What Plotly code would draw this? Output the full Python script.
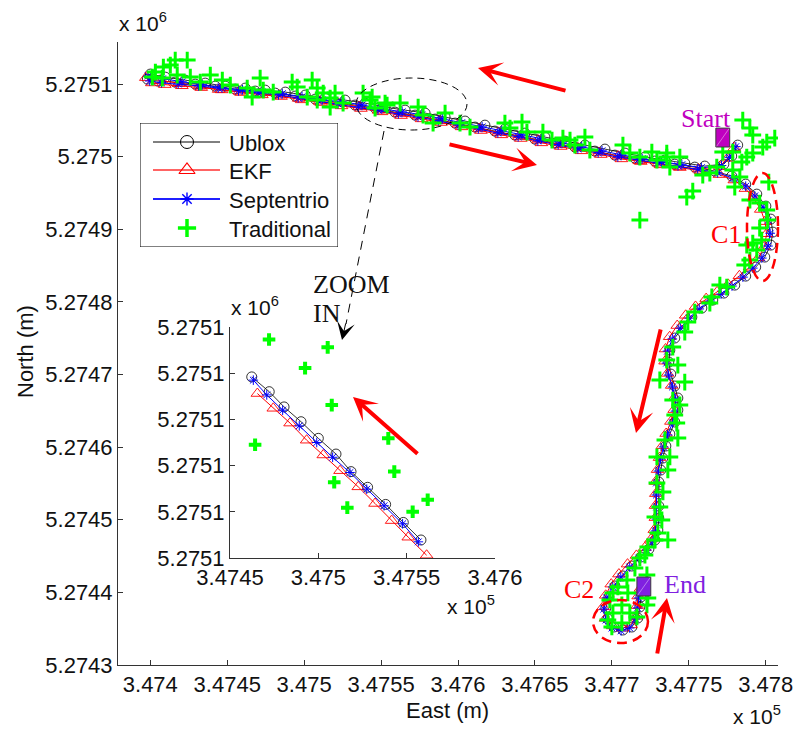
import plotly.graph_objects as go

# ------------------------------------------------------------------
# Vehicle track, UTM east / north in metres
# ------------------------------------------------------------------
ublox_east = [
    347781.8, 347777.9, 347772.8,
    347760.4, 347747.4, 347734.4, 347721.5, 347708.5, 347695.5, 347682.5, 347669.5, 347656.5, 347643.5,
    347630.5, 347617.5, 347604.6, 347591.6, 347578.6, 347565.6, 347552.6, 347539.6, 347526.6, 347513.6,
    347500.7, 347487.7, 347474.7, 347461.7, 347448.7, 347435.7, 347422.7, 347409.7, 347400.0,
    347398.1, 347405.2, 347416.2, 347429.2, 347442.2, 347455.2, 347468.2, 347481.2, 347494.2, 347507.2,
    347520.1, 347533.1, 347546.1, 347559.1, 347572.1, 347585.1, 347598.1, 347611.1, 347624.0, 347637.0,
    347650.0, 347663.0, 347676.0, 347689.0, 347702.0, 347715.0, 347727.9, 347740.9, 347753.9, 347766.9,
    347777.9, 347787.0,
    347794.2, 347800.1, 347803.3, 347804.6, 347803.3, 347799.4, 347793.5, 347787.0, 347779.9, 347772.8,
    347765.6, 347758.5, 347752.0, 347746.2, 347740.9, 347737.7, 347737.0, 347738.3, 347740.9, 347742.9,
    347742.9, 347740.9, 347737.7, 347735.1, 347733.1, 347731.8, 347730.5, 347730.5, 347730.5, 347730.5,
    347729.9, 347728.0, 347724.1, 347718.9, 347713.0, 347707.2, 347702.0, 347698.1, 347696.1, 347697.4,
    347701.3, 347707.2, 347713.0, 347716.9, 347718.2, 347718.9, 347720.2,
]
ublox_north = [
    5275016.0, 5275000.9, 5274989.8,
    5274987.1, 5274991.2, 5274995.4, 5274999.5, 5275005.0, 5275010.5, 5275016.0, 5275021.5, 5275027.0, 5275032.5,
    5275038.0, 5275043.5, 5275049.1, 5275054.6, 5275060.1, 5275064.2, 5275068.3, 5275073.8, 5275078.0, 5275080.7,
    5275084.9, 5275089.0, 5275091.7, 5275094.5, 5275097.2, 5275101.4, 5275105.5, 5275109.6, 5275113.8,
    5275106.9, 5275104.1, 5275102.8, 5275100.0, 5275097.2, 5275093.1, 5275090.4, 5275087.6, 5275083.5, 5275079.3,
    5275075.2, 5275071.1, 5275067.0, 5275061.4, 5275057.3, 5275051.8, 5275046.3, 5275040.8, 5275035.3, 5275029.8,
    5275024.3, 5275018.8, 5275013.3, 5275007.7, 5275002.2, 5274998.1, 5274994.0, 5274989.8, 5274985.7, 5274980.2,
    5274973.3, 5274962.3,
    5274948.5, 5274932.0, 5274914.1, 5274896.2, 5274878.3, 5274861.8, 5274848.0, 5274835.6, 5274823.2, 5274812.2,
    5274802.6, 5274791.6, 5274779.2, 5274765.4, 5274750.3, 5274733.7, 5274717.2, 5274700.7, 5274684.2, 5274667.7,
    5274651.1, 5274634.6, 5274618.1, 5274601.6, 5274585.0, 5274568.5, 5274552.0, 5274535.5, 5274518.9, 5274502.4,
    5274485.9, 5274472.1, 5274459.7, 5274448.7, 5274436.3, 5274422.6, 5274408.8, 5274393.7, 5274378.5, 5274363.4,
    5274352.3, 5274348.2, 5274352.3, 5274364.7, 5274379.9, 5274393.7, 5274404.7,
]

ekf_east = [
    347779.5, 347775.2, 347770.1,
    347756.3, 347743.6, 347730.2, 347717.8, 347704.1, 347691.7, 347678.2, 347665.8, 347652.1, 347639.6,
    347626.3, 347613.8, 347600.3, 347587.9, 347574.4, 347561.8, 347548.3, 347535.8, 347522.4, 347509.9,
    347496.5, 347483.8, 347470.5, 347457.9, 347444.4, 347431.9, 347418.4, 347406.0, 347397.1,
    347401.0, 347409.4, 347420.5, 347433.1, 347446.4, 347459.0, 347472.5, 347485.0, 347498.4, 347511.1,
    347524.3, 347536.9, 347550.3, 347563.0, 347576.3, 347588.9, 347602.3, 347614.9, 347628.2, 347640.8,
    347654.2, 347666.8, 347680.2, 347692.8, 347706.2, 347718.8, 347731.6, 347744.2, 347757.6, 347769.9,
    347779.6, 347786.8,
    347792.0, 347796.8, 347799.5, 347800.6, 347799.2, 347795.3, 347789.4, 347782.9, 347775.6, 347768.4,
    347761.3, 347754.4, 347748.0, 347742.5, 347737.6, 347734.9, 347734.6, 347736.2, 347738.9, 347740.7,
    347740.5, 347738.4, 347735.3, 347732.9, 347731.0, 347729.7, 347728.5, 347728.6, 347728.4, 347728.3,
    347727.6, 347725.5, 347721.4, 347716.0, 347710.2, 347704.6, 347699.6, 347696.0, 347694.3, 347695.9,
    347700.4, 347706.9, 347712.4, 347715.6, 347716.5, 347717.1, 347718.6,
]
ekf_north = [
    5275012.3, 5274998.0, 5274986.4,
    5274982.9, 5274986.5, 5274991.1, 5274994.6, 5275000.8, 5275005.9, 5275011.8, 5275016.7, 5275022.9, 5275027.8,
    5275033.6, 5275038.9, 5275044.8, 5275049.7, 5275055.9, 5275059.6, 5275063.9, 5275069.0, 5275073.4, 5275076.4,
    5275080.2, 5275084.7, 5275087.0, 5275090.1, 5275092.6, 5275097.1, 5275100.8, 5275105.2, 5275108.9,
    5275101.6, 5275099.3, 5275097.7, 5275095.2, 5275092.0, 5275088.4, 5275085.2, 5275082.9, 5275078.3, 5275074.6,
    5275070.0, 5275066.4, 5275061.8, 5275056.7, 5275052.1, 5275047.1, 5275041.1, 5275036.1, 5275030.1, 5275025.1,
    5275019.1, 5275014.1, 5275008.1, 5275003.0, 5274997.0, 5274993.4, 5274988.8, 5274985.1, 5274980.5, 5274975.4,
    5274967.9, 5274956.1,
    5274943.1, 5274927.4, 5274910.6, 5274893.9, 5274876.5, 5274860.9, 5274847.7, 5274836.0, 5274824.2, 5274813.9,
    5274804.6, 5274793.8, 5274781.6, 5274767.5, 5274752.1, 5274735.2, 5274718.4, 5274701.6, 5274685.0, 5274668.3,
    5274651.7, 5274635.4, 5274618.8, 5274602.0, 5274585.6, 5274569.1, 5274552.6, 5274536.0, 5274519.6, 5274503.0,
    5274486.4, 5274473.3, 5274461.6, 5274450.9, 5274438.9, 5274425.2, 5274411.4, 5274396.0, 5274380.1, 5274364.2,
    5274353.8, 5274350.6, 5274355.2, 5274367.1, 5274381.8, 5274395.0, 5274405.5,
]

septentrio_east = [
    347780.6, 347776.4, 347771.3,
    347758.2, 347745.5, 347732.3, 347719.7, 347706.3, 347693.6, 347680.4, 347667.7, 347654.3, 347641.6,
    347628.4, 347615.7, 347602.4, 347589.8, 347576.5, 347563.7, 347550.5, 347537.7, 347524.5, 347511.8,
    347498.6, 347485.8, 347472.6, 347459.9, 347446.6, 347433.8, 347420.6, 347408.0, 347398.6,
    347399.6, 347407.3, 347418.1, 347431.3, 347444.1, 347457.3, 347470.1, 347483.3, 347496.1, 347509.3,
    347522.0, 347535.2, 347548.0, 347561.2, 347574.0, 347587.2, 347600.0, 347613.2, 347625.9, 347639.1,
    347651.9, 347665.1, 347677.9, 347691.1, 347703.9, 347717.1, 347729.8, 347743.0, 347755.8, 347768.8,
    347778.9, 347787.0,
    347792.9, 347798.4, 347801.6, 347802.9, 347801.5, 347797.5, 347791.6, 347785.2, 347778.1, 347771.0,
    347763.9, 347756.8, 347750.3, 347744.5, 347739.3, 347736.2, 347735.6, 347736.9, 347739.4, 347741.5,
    347741.4, 347739.4, 347736.2, 347733.6, 347731.6, 347730.3, 347729.0, 347729.0, 347729.1, 347729.0,
    347728.4, 347726.6, 347722.7, 347717.5, 347711.6, 347705.8, 347700.6, 347696.7, 347694.8, 347696.2,
    347700.1, 347706.0, 347711.6, 347715.4, 347716.7, 347717.4, 347718.8,
]
septentrio_north = [
    5275013.9, 5274999.2, 5274987.9,
    5274984.9, 5274989.0, 5274993.0, 5274997.3, 5275002.6, 5275008.2, 5275013.7, 5275019.1, 5275024.7, 5275030.2,
    5275035.8, 5275041.1, 5275046.9, 5275052.2, 5275057.9, 5275061.8, 5275066.1, 5275071.4, 5275075.7, 5275078.4,
    5275082.5, 5275086.8, 5275089.3, 5275092.2, 5275094.8, 5275099.2, 5275103.1, 5275107.4, 5275111.2,
    5275104.3, 5275101.7, 5275100.2, 5275097.6, 5275094.6, 5275090.7, 5275087.8, 5275085.2, 5275080.9, 5275076.9,
    5275072.6, 5275068.7, 5275064.4, 5275059.0, 5275054.7, 5275049.4, 5275043.7, 5275038.4, 5275032.7, 5275027.4,
    5275021.7, 5275016.4, 5275010.7, 5275005.3, 5274999.6, 5274995.7, 5274991.4, 5274987.4, 5274983.1, 5274977.8,
    5274970.6, 5274959.4,
    5274946.0, 5274930.2, 5274912.4, 5274894.6, 5274877.0, 5274860.4, 5274846.6, 5274834.2, 5274821.9, 5274810.9,
    5274801.3, 5274790.4, 5274777.8, 5274764.0, 5274749.1, 5274732.3, 5274715.8, 5274699.3, 5274682.9, 5274666.4,
    5274649.7, 5274633.3, 5274616.8, 5274600.3, 5274583.6, 5274567.1, 5274550.7, 5274534.1, 5274517.6, 5274501.0,
    5274484.6, 5274470.8, 5274458.3, 5274447.3, 5274435.0, 5274421.2, 5274407.4, 5274392.4, 5274377.1, 5274362.0,
    5274350.9, 5274347.0, 5274351.0, 5274363.4, 5274378.6, 5274392.3, 5274403.3,
]

traditional_east = [
    347424.0, 347416.2, 347413.0, 347408.5, 347403.3, 347401.3, 347407.8, 347417.5, 347426.0, 347432.5,
    347439.0, 347446.8, 347452.0, 347463.0, 347466.2, 347471.4, 347473.4, 347479.9, 347492.2, 347495.5,
    347505.2, 347508.5, 347512.4, 347516.9, 347520.1, 347525.3, 347516.9, 347508.5, 347502.0, 347538.3,
    347542.9, 347546.1, 347553.9,
    347544.2, 347552.6, 347562.4, 347574.1, 347577.3, 347591.6, 347583.8, 347601.3, 347607.8, 347630.5,
    347633.8, 347641.6, 347644.8, 347655.2, 347661.1, 347668.2, 347672.8, 347676.0, 347682.5, 347685.7,
    347707.2, 347711.7, 347718.2, 347726.0, 347729.3, 347735.7, 347744.2, 347735.7, 347737.7,
    347785.1, 347789.7, 347791.6, 347800.7, 347805.9, 347798.1, 347791.6, 347787.7, 347778.6, 347772.1,
    347784.5, 347778.6, 347768.2, 347763.7, 347752.6, 347748.7, 347718.2, 347802.0, 347783.2, 347779.9,
    347759.1,
    347800.7, 347801.3, 347796.1, 347797.4, 347791.6, 347787.7, 347794.2, 347789.7, 347786.4, 347789.7,
    347796.1, 347770.2,
    347774.7, 347765.0, 347763.7, 347753.9, 347749.4, 347747.4, 347739.6, 347735.7, 347742.9, 347731.2,
    347747.4, 347739.6, 347744.2, 347740.9, 347742.2, 347742.9, 347734.5, 347729.3, 347737.7, 347736.4,
    347729.3, 347733.2, 347731.2, 347728.0, 347732.5, 347729.9, 347736.4, 347728.0,
    347723.4, 347721.5, 347718.2, 347715.0, 347722.8, 347709.8, 347703.9, 347700.7, 347710.4, 347698.7,
    347706.5, 347722.8, 347700.7, 347711.7, 347697.4, 347706.5, 347700.0, 347716.3, 347723.4,
]
traditional_north = [
    5275133.1, 5275133.1, 5275126.2, 5275123.4, 5275116.6, 5275109.7, 5275108.3, 5275112.4, 5275109.7, 5275102.8,
    5275112.4, 5275105.5, 5275098.7, 5275094.5, 5275082.1, 5275108.3, 5275091.8, 5275089.0, 5275102.8, 5275095.9,
    5275105.5, 5275094.5, 5275087.6, 5275080.8, 5275087.6, 5275073.9, 5275068.4, 5275078.0, 5275082.1, 5275087.6,
    5275078.0, 5275067.0, 5275071.1,
    5275082.1, 5275073.9, 5275073.9, 5275068.4, 5275057.4, 5275060.1, 5275046.3, 5275046.3, 5275040.8, 5275046.3,
    5275039.5, 5275047.7, 5275033.9, 5275033.9, 5275022.9, 5275025.7, 5275022.9, 5275016.0, 5275027.1, 5275009.2,
    5275016.0, 5275005.0, 5274999.5, 5275006.4, 5274995.4, 5274999.5, 5274999.5, 5275005.0, 5274985.8,
    5275050.5, 5275039.5, 5275029.8, 5275020.2, 5275025.7, 5275013.3, 5275005.0, 5274999.5, 5275006.4, 5275006.4,
    5274992.6, 5274981.6, 5274985.8, 5274977.5, 5274952.7, 5274944.4, 5274912.8, 5274965.1, 5274972.0, 5274958.2,
    5274974.7,
    5274926.6, 5274912.8, 5274901.8, 5274885.2, 5274881.1, 5274878.4, 5274871.5, 5274857.7, 5274850.8, 5274940.3,
    5274936.2, 5274823.3,
    5274820.5, 5274806.8, 5274798.5, 5274786.1, 5274772.3, 5274758.6, 5274737.9, 5274720.0, 5274713.1, 5274692.5,
    5274689.7, 5274664.9, 5274658.1, 5274644.3, 5274633.3, 5274612.6, 5274609.9, 5274586.5, 5274586.5, 5274568.6,
    5274550.7, 5274538.3, 5274517.6, 5274503.8, 5274499.7, 5274481.8, 5274472.2, 5274472.2,
    5274462.5, 5274451.5, 5274447.4, 5274433.6, 5274424.0, 5274417.1, 5274407.5, 5274399.2, 5274399.2, 5274389.6,
    5274382.7, 5274382.7, 5274371.7, 5274371.7, 5274362.0, 5274357.9, 5274352.4, 5274366.2, 5274392.3,
]

# Short stretch of the westbound leg shown enlarged
zoom_ublox_east = [347462.3, 347472.2, 347480.6, 347490.2, 347500.0, 347510.0, 347518.5, 347527.9, 347538.1, 347548.1, 347558.1]
zoom_ublox_north = [5275089.2, 5275086.0, 5275082.7, 5275079.5, 5275075.9, 5275072.5, 5275068.7, 5275065.3, 5275061.6, 5275057.7, 5275053.9]
zoom_ekf_east = [347465.5, 347474.5, 347484.0, 347493.4, 347502.8, 347512.3, 347522.6, 347532.1, 347541.5, 347550.9, 347561.3]
zoom_ekf_north = [5275085.6, 5275082.4, 5275079.2, 5275075.5, 5275072.3, 5275068.9, 5275065.4, 5275061.8, 5275058.1, 5275054.5, 5275050.6]
zoom_sept_east = [347463.2, 347470.8, 347479.8, 347489.2, 347499.1, 347508.1, 347517.9, 347527.4, 347537.2, 347547.7, 347556.6]
zoom_sept_north = [5275088.5, 5275085.3, 5275082.0, 5275078.6, 5275075.0, 5275071.8, 5275068.5, 5275064.9, 5275061.3, 5275057.4, 5275053.5]
zoom_trad_east = [347472.1, 347464.2, 347492.5, 347505.3, 347507.6, 347509.0, 347516.4, 347539.6, 347543.0, 347553.4, 347561.9]
zoom_trad_north = [5275097.3, 5275074.5, 5275091.1, 5275095.6, 5275083.1, 5275066.4, 5275060.9, 5275075.9, 5275068.7, 5275060.0, 5275062.6]

# Route end points
start_point = (347772.1, 5275026.4)
end_point = (347720.8, 5274408.1)

# Tick positions and labels
main_x_ticks = [347400, 347450, 347500, 347550, 347600, 347650, 347700, 347750, 347800]
main_x_labels = ["3.474", "3.4745", "3.475", "3.4755", "3.476", "3.4765", "3.477", "3.4775", "3.478"]
main_y_ticks = [5274300, 5274400, 5274500, 5274600, 5274700, 5274800, 5274900, 5275000, 5275100]
main_y_labels = ["5.2743", "5.2744", "5.2745", "5.2746", "5.2747", "5.2748", "5.2749", "5.275", "5.2751"]
zoom_x_ticks = [347450, 347500, 347550, 347600]
zoom_x_labels = ["3.4745", "3.475", "3.4755", "3.476"]
zoom_y_ticks = [5275050, 5275060, 5275070, 5275080, 5275090, 5275100]
zoom_y_labels = ["5.2751"] * 6

legend_labels = ["Ublox", "EKF", "Septentrio", "Traditional"]

# ------------------------------------------------------------------
# Page geometry helpers (page pixels -> paper fractions)
# ------------------------------------------------------------------
W, H = 796, 734
ML, MR, MT, MB = 118, 18, 42, 69
PW, PH = W - ML - MR, H - MT - MB


def fx(x):
    return (x - ML) / PW


def fy(y):
    return (H - MB - y) / PH


SANS = "Liberation Sans, Arial, Helvetica, sans-serif"
SERIF = "Liberation Serif, Times New Roman, serif"
AXIS = "#333333"
TEXT = "#111111"
GREEN = "#00FF00"
FS = 22

# Per-series styling, in drawing order
styles = [
    dict(mode="lines+markers", line=dict(color="black", width=0.8),
         marker=dict(symbol="circle-open", size=10, color="black", line=dict(width=0.8))),
    dict(mode="lines+markers", line=dict(color="#FF0000", width=1),
         marker=dict(symbol="triangle-up-open", size=11, color="#FF0000", line=dict(width=0.9))),
    dict(mode="lines+markers", line=dict(color="#0000FF", width=1),
         marker=dict(symbol="asterisk-open", size=8, color="#0000FF", line=dict(width=1, color="#0000FF"))),
    dict(mode="markers",
         marker=dict(symbol="cross-thin-open", size=12, color=GREEN, line=dict(width=3, color=GREEN))),
]

fig = go.Figure()

main_xs = [ublox_east, ekf_east, septentrio_east, traditional_east]
main_ys = [ublox_north, ekf_north, septentrio_north, traditional_north]
for name, xs, ys, st in zip(legend_labels, main_xs, main_ys, styles):
    fig.add_trace(go.Scatter(x=xs, y=ys, name=name, xaxis="x", yaxis="y", showlegend=False, **st))

zoom_xs = [zoom_ublox_east, zoom_ekf_east, zoom_sept_east, zoom_trad_east]
zoom_ys = [zoom_ublox_north, zoom_ekf_north, zoom_sept_north, zoom_trad_north]
for name, xs, ys, st in zip(legend_labels, zoom_xs, zoom_ys, styles):
    st = dict(st)
    if name == "Traditional":
        st["marker"] = dict(symbol="cross-thin-open", size=9, color=GREEN, line=dict(width=4, color=GREEN))
    fig.add_trace(go.Scatter(x=xs, y=ys, name=name, xaxis="x2", yaxis="y2", showlegend=False, **st))

# Legend key, drawn in its own small pixel-scaled panel (x3 / y3)
legend_rows = [142, 170, 199, 228]
legend_marks = [
    dict(symbol="circle-open", size=13, color="black", line=dict(width=1)),
    dict(symbol="triangle-up-open", size=14, color="#FF0000", line=dict(width=1.2)),
    dict(symbol="asterisk-open", size=11, color="#0000FF", line=dict(width=1.4, color="#0000FF")),
    dict(symbol="cross-thin-open", size=13, color=GREEN, line=dict(width=3.5, color=GREEN)),
]
legend_lines = [("black", 1), ("#FF3030", 1.6), ("#2020FF", 2), None]
for row, mk, ln in zip(legend_rows, legend_marks, legend_lines):
    if ln is not None:
        fig.add_trace(go.Scatter(x=[153, 220], y=[row, row], mode="lines", xaxis="x3", yaxis="y3",
                                 showlegend=False, hoverinfo="skip", line=dict(color=ln[0], width=ln[1])))
    fig.add_trace(go.Scatter(x=[187], y=[row], mode="markers", xaxis="x3", yaxis="y3",
                             showlegend=False, hoverinfo="skip", marker=mk))

axis_common = dict(showline=True, linecolor=AXIS, linewidth=1, ticks="inside", ticklen=5,
                   tickcolor=AXIS, tickwidth=1, showgrid=False, zeroline=False, mirror=False,
                   automargin=False, tickfont=dict(family=SANS, size=FS, color=TEXT))

shapes = []
# Legend frame
shapes.append(dict(type="rect", xref="x3", yref="y3", x0=140, x1=338, y0=123, y1=247, layer="below",
                   fillcolor="white", line=dict(color="black", width=1)))
# Start / End markers
for (e, n), fill in ((start_point, "#BF00BF"), (end_point, "#8020E0")):
    shapes.append(dict(type="rect", xref="x", yref="y", x0=e - 4.5, x1=e + 4.5, y0=n - 13, y1=n + 13,
                       fillcolor=fill, line=dict(color="#3a3a3a", width=1)))
    shapes.append(dict(type="line", xref="x", yref="y", x0=e - 4.0, x1=e + 4.0, y0=n - 12, y1=n + 12,
                       line=dict(color="rgba(255,255,255,0.6)", width=0.7)))

# Highlight ellipses
shapes.append(dict(type="circle", xref="paper", yref="paper", x0=fx(356), x1=fx(467), y0=fy(130), y1=fy(78),
                   line=dict(color="black", width=1, dash="7px,5px")))
shapes.append(dict(type="circle", xref="paper", yref="paper", x0=fx(747), x1=fx(778), y0=fy(281), y1=fy(173),
                   line=dict(color="#FF0000", width=2.5, dash="10px,6px")))
shapes.append(dict(type="circle", xref="paper", yref="paper", x0=fx(593), x1=fx(648), y0=fy(643), y1=fy(600),
                   line=dict(color="#FF0000", width=2.5, dash="10px,6px")))
# Leader from the ellipse to the enlarged view
shapes.append(dict(type="line", xref="paper", yref="paper", x0=fx(384), y0=fy(131), x1=fx(346), y1=fy(324),
                   line=dict(color="black", width=1, dash="9px,7px")))

annotations = []


def arrow(head, tail, color="#FF0000", width=4, size=1.0):
    annotations.append(dict(x=fx(head[0]), y=fy(head[1]), xref="paper", yref="paper", text="",
                            showarrow=True, arrowhead=3, arrowsize=size, arrowwidth=width,
                            arrowcolor=color, ax=tail[0] - head[0], ay=tail[1] - head[1], standoff=0))


arrow((478, 68), (567, 91))
arrow((537, 165), (448, 144))
arrow((636, 433), (661, 328))
arrow((667, 598), (657, 655))
arrow((353, 397), (419, 455))
arrow((342, 340), (346, 322), color="black", width=1, size=3)


def label(text, x, y, color, size=26, family=SERIF, xanchor="left", yanchor="middle", angle=0,
          xref="paper", yref="paper"):
    if xref == "paper":
        x, y = fx(x), fy(y)
    annotations.append(dict(text=text, x=x, y=y, xref=xref, yref=yref, showarrow=False,
                            xanchor=xanchor, yanchor=yanchor, textangle=angle,
                            font=dict(family=family, size=size, color=color)))


label("Start", 679, 119, "#C000C0")
label("End", 662, 584, "#8020E0")
label("C1", 709, 234, "#FF0000")
label("C2", 562, 589, "#FF0000")
label("ZOOM", 311, 284, TEXT)
label("IN", 311, 313, TEXT)

for row, txt in zip(legend_rows, legend_labels):
    label(txt, 227, row + 1, TEXT, size=FS, family=SANS, xref="x3", yref="y3")

# Axis titles and exponent labels
label("North (m)", 25, 352, TEXT, size=FS, family=SANS, xanchor="center", angle=-90)
label("East (m)", 447, 710, TEXT, size=FS, family=SANS, xanchor="center")
label("x 10<sup>6</sup>", 117, 22, TEXT, size=21, family=SANS)
label("x 10<sup>5</sup>", 731, 715, TEXT, size=21, family=SANS)
label("x 10<sup>6</sup>", 229, 306, TEXT, size=21, family=SANS)
label("x 10<sup>5</sup>", 497, 605, TEXT, size=21, family=SANS, xanchor="right")

hidden = dict(visible=False, showgrid=False, zeroline=False, fixedrange=True)

fig.update_layout(
    width=W, height=H,
    margin=dict(l=ML, r=MR, t=MT, b=MB, pad=0, autoexpand=False),
    paper_bgcolor="white", plot_bgcolor="rgba(0,0,0,0)",
    xaxis=dict(domain=[0, 1], range=[347379, 347808], tickvals=main_x_ticks, ticktext=main_x_labels,
               anchor="y", **axis_common),
    yaxis=dict(domain=[0, 1], range=[5274300, 5275158], tickvals=main_y_ticks, ticktext=main_y_labels,
               anchor="x", **axis_common),
    xaxis2=dict(domain=[fx(230), fx(495)], range=[347450, 347600], tickvals=zoom_x_ticks,
                ticktext=zoom_x_labels, anchor="y2", **axis_common),
    yaxis2=dict(domain=[fy(558), fy(327)], range=[5275050, 5275100], tickvals=zoom_y_ticks,
                ticktext=zoom_y_labels, anchor="x2", **axis_common),
    xaxis3=dict(domain=[fx(140), fx(338)], range=[140, 338], anchor="y3", **hidden),
    yaxis3=dict(domain=[fy(247), fy(123)], range=[247, 123], anchor="x3", **hidden),
    shapes=shapes,
    annotations=annotations,
    showlegend=False,
)

fig.write_html("out.html")
